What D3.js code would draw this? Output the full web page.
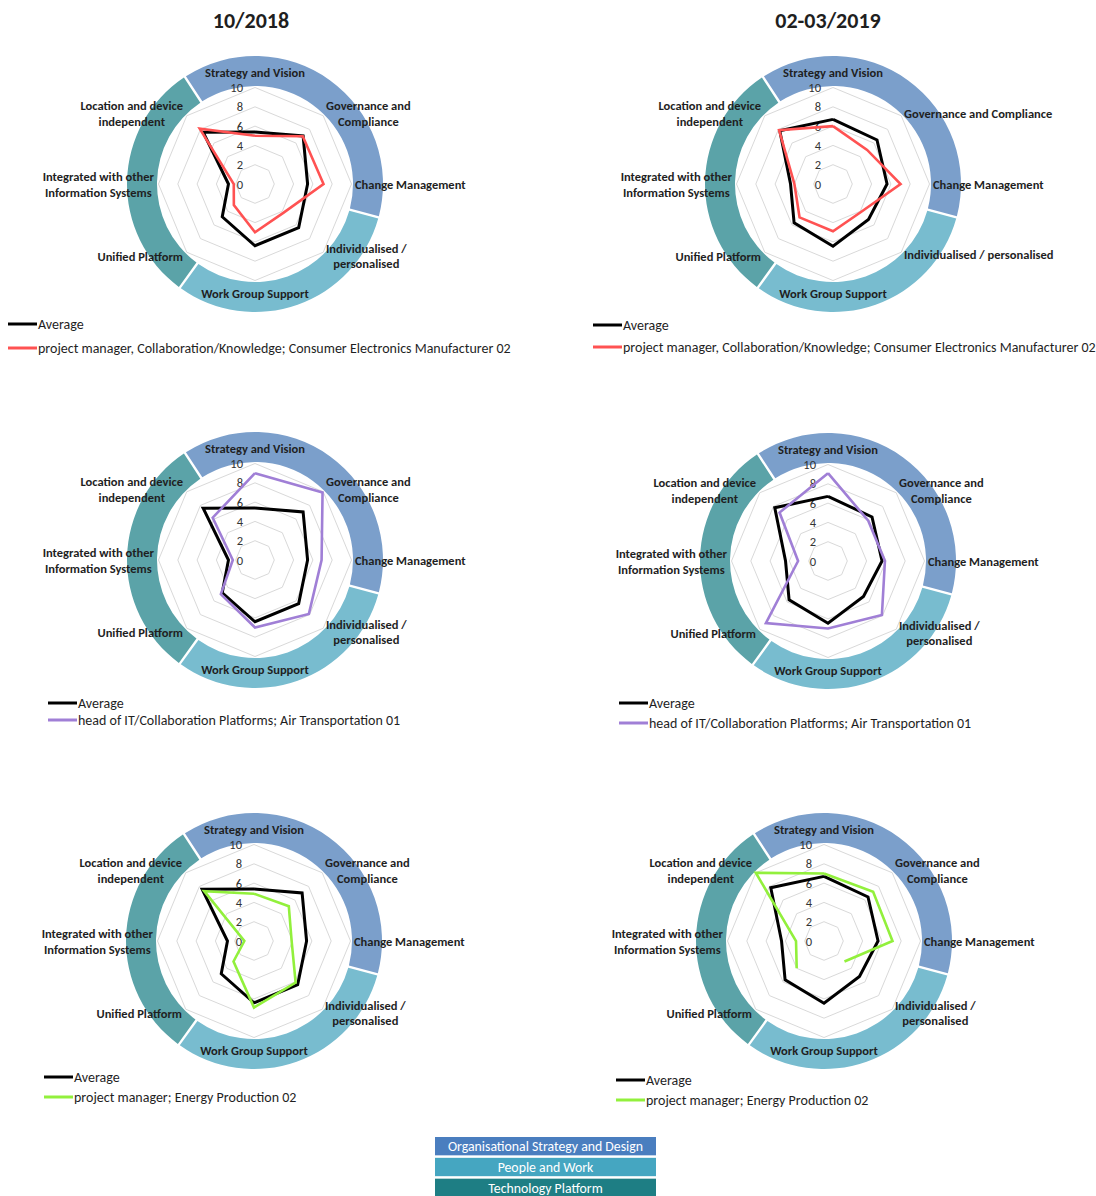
<!DOCTYPE html>
<html>
<head>
<meta charset="utf-8">
<script src="https://cdn.jsdelivr.net/npm/d3@7"></script>
<style>
  html, body { margin: 0; padding: 0; background: #ffffff; }
  svg { display: block; }
  text { font-family: Carlito, Lato, "Liberation Sans", sans-serif; }
</style>
</head>
<body>
<svg id="chart" width="1096" height="1196"></svg>
<script>
// ---- data ----------------------------------------------------------------
const axisNames = [
  "Strategy and Vision", "Governance and Compliance", "Change Management",
  "Individualised / personalised", "Work Group Support", "Unified Platform",
  "Integrated with other Information Systems", "Location and device independent"
];
// axis labels as they wrap in the narrow and the wide layout
const axisLinesWrapped = [
  ["Strategy and Vision"], ["Governance and", "Compliance"], ["Change Management"],
  ["Individualised /", "personalised"], ["Work Group Support"], ["Unified Platform"],
  ["Integrated with other", "Information Systems"], ["Location and device", "independent"]
];
const axisLinesWide = [
  ["Strategy and Vision"], ["Governance and Compliance"], ["Change Management"],
  ["Individualised / personalised"], ["Work Group Support"], ["Unified Platform"],
  ["Integrated with other", "Information Systems"], ["Location and device", "independent"]
];
const tickValues = [0, 2, 4, 6, 8, 10];
const periodTitles = ["10/2018", "02-03/2019"];

const average2018 = [5.4, 7.05, 5.45, 6.4, 6.4, 4.8, 2.75, 7.6];
const average2019 = [6.7, 6.45, 5.6, 5.2, 6.45, 5.7, 4.4, 7.8];

const consumerPm2018 = [5.0, 7.0, 7.1, 4.2, 5.0, 3.1, 2.2, 8.1];
const consumerPm2019 = [6.0, 5.0, 7.0, 4.1, 4.9, 4.9, 4.0, 7.9];
const airHeadIt2018 = [9.0, 9.9, 6.9, 7.9, 7.0, 5.0, 2.3, 6.2];
const airHeadIt2019 = [9.1, 5.9, 5.9, 7.9, 7.0, 9.1, 3.1, 7.1];
const energyPm2018 = [4.9, 5.1, 3.9, 6.1, 6.9, 3.0, 1.0, 7.3];
const energyPm2019 = [7.0, 7.2, 7.1, 3.0, null, 4.0, 2.9, 10.0];

const seriesNames = [
  "project manager, Collaboration/Knowledge; Consumer Electronics Manufacturer 02",
  "head of IT/Collaboration Platforms; Air Transportation 01",
  "project manager; Energy Production 02"
];
const averageName = "Average";

const groupNames = ["Organisational Strategy and Design", "People and Work", "Technology Platform"];
const groupShares = [5, 4, 4];

// ---- styling --------------------------------------------------------------
const seriesColors = ["#ff5252", "#a07fd6", "#92f03c"];
const ringColors = ["#7b9fcb", "#78bccf", "#5ba3a8"];
const groupBoxColors = ["#4a7ebf", "#45a6c1", "#1e7e84"];
const gridColor = "#d9d9d9";
const textColor = "#1f1f1f";

const R = 96.5;          // radius of value 10
const ringInner = 98, ringOuter = 128;

const rScale = d3.scaleLinear().domain([0, 10]).range([0, R]);
const angleOf = i => i * Math.PI / 4;   // clockwise from 12 o'clock

const panels = [
  { cx: 255, cy: 184, avg: average2018, vals: consumerPm2018, s: 0, labels: axisLinesWrapped, lx: 8,   ly: [324, 348] },
  { cx: 833, cy: 184, avg: average2019, vals: consumerPm2019, s: 0, labels: axisLinesWide,    lx: 593, ly: [325, 347] },
  { cx: 255, cy: 560, avg: average2018, vals: airHeadIt2018,  s: 1, labels: axisLinesWrapped, lx: 48,  ly: [703, 720] },
  { cx: 828, cy: 561, avg: average2019, vals: airHeadIt2019,  s: 1, labels: axisLinesWrapped, lx: 619, ly: [703, 723] },
  { cx: 254, cy: 941, avg: average2018, vals: energyPm2018,   s: 2, labels: axisLinesWrapped, lx: 44,  ly: [1077, 1097] },
  { cx: 824, cy: 941, avg: average2019, vals: energyPm2019,   s: 2, labels: axisLinesWrapped, lx: 616, ly: [1080, 1100] }
];

const svg = d3.select("#chart");

// period titles
svg.selectAll("text.title").data(periodTitles).join("text")
  .attr("class", "title")
  .attr("x", (d, i) => i === 0 ? 251 : 828)
  .attr("y", 20)
  .attr("text-anchor", "middle")
  .attr("dominant-baseline", "central")
  .attr("font-size", 22).attr("font-weight", 700)
  .attr("fill", textColor)
  .text(d => d);

const pie = d3.pie().sort(null).value(d => d)
  .startAngle(-33.2 * Math.PI / 180)
  .endAngle(-33.2 * Math.PI / 180 + 2 * Math.PI)
  .padAngle(0.015);
const ringArc = d3.arc().innerRadius(ringInner).outerRadius(ringOuter);

const gridLine = d3.lineRadial()
  .angle((d, i) => angleOf(i))
  .radius(d => rScale(d))
  .curve(d3.curveLinearClosed);

// closed polygon that breaks where a value is missing
function seriesPath(values) {
  const pts = values.map((v, i) => ({ v, i })).concat([{ v: values[0], i: 8 }]);
  return d3.lineRadial()
    .defined(d => d.v != null)
    .angle(d => angleOf(d.i))
    .radius(d => rScale(d.v))(pts);
}

panels.forEach(p => {
  const g = svg.append("g").attr("transform", `translate(${p.cx},${p.cy})`);

  // grouping ring
  g.selectAll("path.ring").data(pie(groupShares)).join("path")
    .attr("class", "ring")
    .attr("d", ringArc)
    .attr("fill", (d, i) => ringColors[i]);

  // octagonal gridlines
  g.selectAll("path.grid").data(tickValues.filter(t => t > 0)).join("path")
    .attr("class", "grid")
    .attr("d", t => gridLine(d3.range(8).map(() => t)))
    .attr("fill", "none")
    .attr("stroke", gridColor)
    .attr("stroke-width", 1);

  // value ticks
  g.selectAll("text.tick").data(tickValues).join("text")
    .attr("class", "tick")
    .attr("x", -12)
    .attr("y", t => -rScale(t))
    .attr("text-anchor", "end")
    .attr("dominant-baseline", "central")
    .attr("font-size", 12.5)
    .attr("fill", "#333")
    .text(t => t);

  // series
  g.append("path")
    .attr("d", seriesPath(p.avg))
    .attr("fill", "none").attr("stroke", "#000")
    .attr("stroke-width", 3).attr("stroke-linejoin", "miter");
  g.append("path")
    .attr("d", seriesPath(p.vals))
    .attr("fill", "none").attr("stroke", seriesColors[p.s])
    .attr("stroke-width", 2.6).attr("stroke-linejoin", "miter");

  // axis labels
  p.labels.forEach((lines, i) => {
    const t = g.append("text")
      .attr("font-size", 12.5).attr("font-weight", 700)
      .attr("fill", textColor)
      .attr("text-anchor", "middle")
      .attr("dominant-baseline", "central");
    const spans = lines.map(l => t.append("tspan").text(l));
    const w = d3.max(spans, s => s.node().getComputedTextLength());
    const lh = 15.5;
    let cxL, cyL;
    const blockH = (lines.length - 1) * lh;
    if (i === 0) { cxL = 0; cyL = -112; }
    else if (i === 4) { cxL = 0; cyL = 109; }
    else if (i === 2) { cxL = 100 + w / 2; cyL = 0; }
    else if (i === 6) { cxL = -101 - w / 2; cyL = 0; }
    else if (i === 1) { cxL = 71 + w / 2; cyL = -71; }
    else if (i === 3) { cxL = 71 + w / 2; cyL = lines.length > 1 ? 71.5 : 70; }
    else if (i === 5) { cxL = -72 - w / 2; cyL = 72; }
    else { cxL = -72 - w / 2; cyL = -71; }
    spans.forEach((s, k) => s.attr("x", cxL).attr("y", cyL - blockH / 2 + k * lh));
  });

  // legend
  const legendItems = [
    { name: averageName, color: "#000" },
    { name: seriesNames[p.s], color: seriesColors[p.s] }
  ];
  legendItems.forEach((it, k) => {
    svg.append("line")
      .attr("x1", p.lx).attr("x2", p.lx + 29)
      .attr("y1", p.ly[k]).attr("y2", p.ly[k])
      .attr("stroke", it.color).attr("stroke-width", 3);
    svg.append("text")
      .attr("x", p.lx + 30).attr("y", p.ly[k])
      .attr("dominant-baseline", "central")
      .attr("font-size", 14)
      .attr("fill", textColor)
      .text(it.name);
  });
});

// group legend boxes
const boxY = d3.scaleBand().domain(groupNames).range([1137, 1197]).paddingInner(0.12);
const boxes = svg.selectAll("g.box").data(groupNames).join("g").attr("class", "box");
boxes.append("rect")
  .attr("x", 435).attr("width", 221)
  .attr("y", d => boxY(d)).attr("height", boxY.bandwidth())
  .attr("fill", (d, i) => groupBoxColors[i]);
boxes.append("text")
  .attr("x", 545.5).attr("y", d => boxY(d) + boxY.bandwidth() / 2 + 0.5)
  .attr("text-anchor", "middle").attr("dominant-baseline", "central")
  .attr("font-size", 13.8).attr("fill", "#fff")
  .text(d => d);
</script>
</body>
</html>
